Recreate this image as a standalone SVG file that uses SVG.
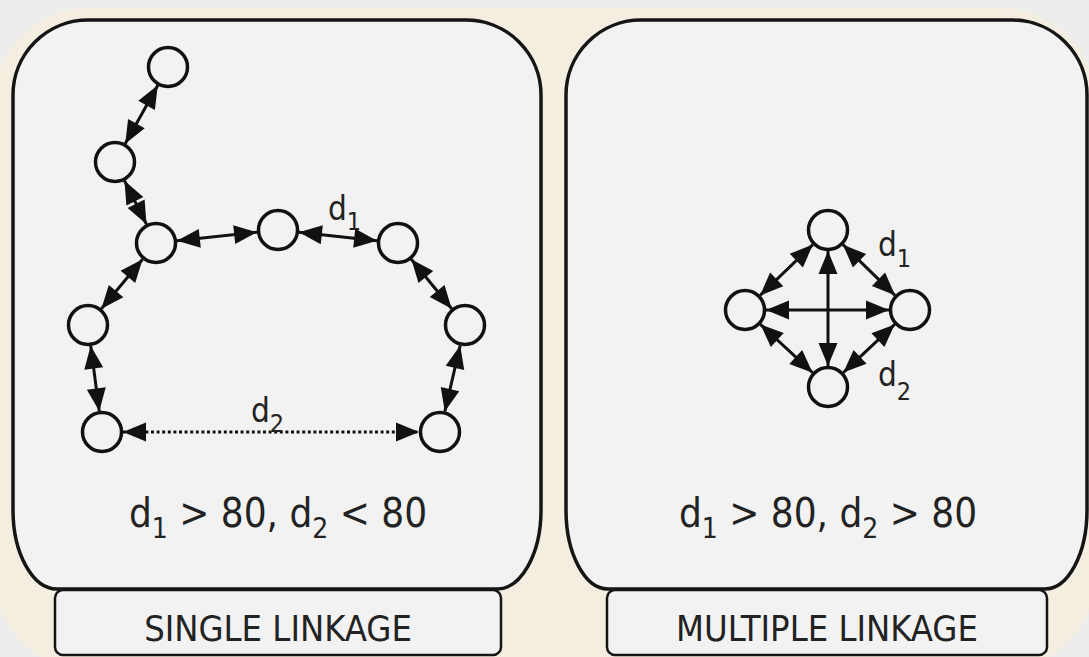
<svg xmlns="http://www.w3.org/2000/svg" width="1089" height="657" viewBox="0 0 1089 657">
<defs>
<style>
.panel{fill:#f2f2f2;stroke:#151515;stroke-width:3.5}
.box{fill:#f2f2f2;stroke:#151515;stroke-width:2.5}
.node{fill:#f2f2f2;stroke:#111;stroke-width:3.5}
.edge{stroke:#111;stroke-width:3;fill:none;marker-start:url(#ah);marker-end:url(#ah)}
.dot{stroke-dasharray:3 2.6;stroke-width:3}
.t{font-family:"DejaVu Sans Condensed","DejaVu Sans",sans-serif;font-stretch:condensed;fill:#222}
</style>
<marker id="ah" markerUnits="userSpaceOnUse" markerWidth="24" markerHeight="20" refX="23" refY="9.5" orient="auto-start-reverse" viewBox="0 0 24 20" overflow="visible">
<path d="M0,0 L23,9.5 L0,19 Z" fill="#111"/>
</marker>
</defs>
<rect x="0" y="0" width="1089" height="657" fill="#ededed"/>
<rect x="-6" y="8" width="1102" height="662" rx="95" fill="#f3eee0"/>

<g id="panel-single">
<path class="panel" d="M13,95 A75,75 0 0 1 88,20 L466,20 A75,75 0 0 1 541,95 L541,510 A44,79 0 0 1 497,589 L57,589 A44,79 0 0 1 13,510 Z"/>
</g>
<g id="panel-multiple">
<path class="panel" d="M566,95 A75,75 0 0 1 641,20 L1012,20 A75,75 0 0 1 1087,95 L1087,510 A42,79 0 0 1 1045,589 L608,589 A42,79 0 0 1 566,510 Z"/>
</g>

<g id="connectors">
<line class="edge" x1="157.8" y1="85.3" x2="125.2" y2="143.7"/>
<line class="edge" x1="124.5" y1="180.7" x2="146.5" y2="224.3"/>
<line class="edge" x1="176.9" y1="240.8" x2="257.1" y2="232.2"/>
<line class="edge" x1="298.9" y1="232.3" x2="377.1" y2="240.7"/>
<line class="edge" x1="142.6" y1="259.2" x2="101.4" y2="308.8"/>
<line class="edge" x1="411.3" y1="259.3" x2="451.7" y2="308.7"/>
<line class="edge" x1="90.7" y1="345.8" x2="99.3" y2="411.2"/>
<line class="edge" x1="460.2" y1="345.4" x2="444.8" y2="411.6"/>
<line class="edge dot" x1="123" y1="432" x2="419" y2="432"/>

<line class="edge" x1="812.9" y1="244.6" x2="760.1" y2="295.4"/>
<line class="edge" x1="843" y1="244.7" x2="895" y2="295.3"/>
<line class="edge" x1="760.4" y1="324.3" x2="812.6" y2="372.7"/>
<line class="edge" x1="894.7" y1="324.4" x2="843.3" y2="372.6"/>
<line class="edge" x1="766" y1="310" x2="889" y2="310"/>
<line class="edge" x1="828" y1="251" x2="828" y2="366"/>
</g>

<g id="n1"><circle class="node" cx="168" cy="67" r="19.5"/></g>
<g id="n2"><circle class="node" cx="115" cy="162" r="19.5"/></g>
<g id="n3"><circle class="node" cx="156" cy="243" r="19.5"/></g>
<g id="n4"><circle class="node" cx="278" cy="230" r="19.5"/></g>
<g id="n5"><circle class="node" cx="398" cy="243" r="19.5"/></g>
<g id="n6"><circle class="node" cx="88" cy="325" r="19.5"/></g>
<g id="n7"><circle class="node" cx="465" cy="325" r="19.5"/></g>
<g id="n8"><circle class="node" cx="102" cy="432" r="19.5"/></g>
<g id="n9"><circle class="node" cx="440" cy="432" r="19.5"/></g>

<g id="m-top"><circle class="node" cx="828" cy="230" r="19.5"/></g>
<g id="m-left"><circle class="node" cx="745" cy="310" r="19.5"/></g>
<g id="m-right"><circle class="node" cx="910" cy="310" r="19.5"/></g>
<g id="m-bottom"><circle class="node" cx="828" cy="387" r="19.5"/></g>

<g id="labels">
<text class="t" x="328" y="220" font-size="33">d<tspan font-size="25" dy="10">1</tspan></text>
<text class="t" x="251" y="422" font-size="33">d<tspan font-size="25" dy="10">2</tspan></text>
<text class="t" x="878" y="256" font-size="33">d<tspan font-size="25" dy="11">1</tspan></text>
<text class="t" x="878" y="386" font-size="33">d<tspan font-size="25" dy="14">2</tspan></text>
<text class="t" x="278" y="527" font-size="40" text-anchor="middle">d<tspan font-size="28" dy="11">1</tspan><tspan dy="-11"> &gt; 80, d</tspan><tspan font-size="28" dy="11">2</tspan><tspan dy="-11"> &lt; 80</tspan></text>
<text class="t" x="828" y="527" font-size="40" text-anchor="middle">d<tspan font-size="28" dy="11">1</tspan><tspan dy="-11"> &gt; 80, d</tspan><tspan font-size="28" dy="11">2</tspan><tspan dy="-11"> &gt; 80</tspan></text>
</g>

<g id="label-single">
<rect class="box" x="55" y="590" width="446" height="65" rx="8"/>
<text class="t" x="278" y="641" font-size="36" text-anchor="middle">SINGLE LINKAGE</text>
</g>
<g id="label-multiple">
<rect class="box" x="607" y="590" width="440" height="65" rx="8"/>
<text class="t" x="827" y="641" font-size="36" text-anchor="middle">MULTIPLE LINKAGE</text>
</g>
</svg>
